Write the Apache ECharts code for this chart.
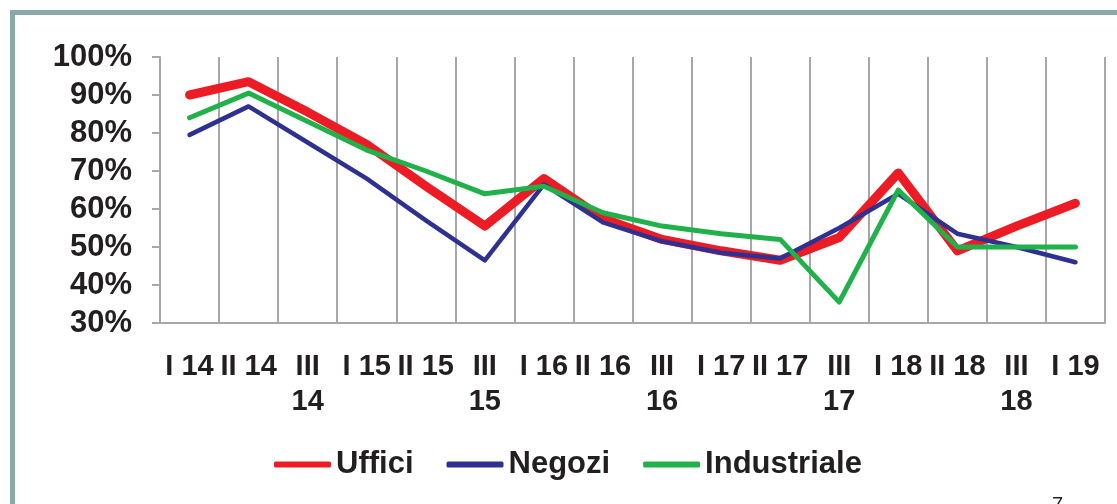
<!DOCTYPE html>
<html>
<head>
<meta charset="utf-8">
<script src="https://cdn.jsdelivr.net/npm/echarts@6/dist/echarts.min.js"></script>
<style>
html, body { margin: 0; padding: 0; background: #fff; }
#chart { width: 1117px; height: 504px; }
</style>
</head>
<body>
<div id="chart"></div>
<script>
var quarters = ['I 14', 'II 14', 'III 14', 'I 15', 'II 15', 'III 15', 'I 16', 'II 16',
    'III 16', 'I 17', 'II 17', 'III 17', 'I 18', 'II 18', 'III 18', 'I 19'];
var uffici = [90, 93.5, 85.5, 77, 66, 55.5, 68, 57.5, 52, 49, 46.5, 52.5, 69.5, 49, 55.5, 61.5];
var negozi = [79.5, 87, 77.5, 68, 57, 46.5, 66.5, 56.5, 51.5, 48.5, 47, 55, 64, 53.5, 50, 46];
var industriale = [84, 90.5, 83, 75.5, 70, 64, 66, 59, 55.5, 53.5, 52, 35.5, 65, 50, 50, 50];
var yTicks = [30, 40, 50, 60, 70, 80, 90, 100];

var font = "'Liberation Sans', Arial, sans-serif";
var ink = '#231f20';
var gridGray = '#a7a7aa';

var chart = echarts.init(document.getElementById('chart'));
option = {
    animation: false,
    backgroundColor: '#fff',
    graphic: [
        {
            type: 'rect',
            shape: { x: 12.5, y: 12.5, width: 1200, height: 600 },
            style: { fill: 'none', stroke: '#89a8a8', lineWidth: 5 }
        },
        {
            type: 'text',
            left: 1052,
            top: 495,
            style: { text: '7', fontSize: 20, fontFamily: font, fill: ink }
        }
    ],
    legend: {
        left: 269,
        top: 444,
        itemWidth: 57,
        itemHeight: 6,
        itemGap: 33,
        icon: 'roundRect',
        textStyle: { fontSize: 31, fontWeight: 'bold', fontFamily: font, color: ink },
        data: ['Uffici', 'Negozi', 'Industriale']
    },
    grid: {
        left: 160,
        right: 12,
        top: 57,
        bottom: 181
    },
    xAxis: {
        type: 'category',
        data: quarters,
        boundaryGap: true,
        axisLine: { lineStyle: { color: gridGray, width: 2 } },
        axisTick: { length: 8, lineStyle: { color: gridGray, width: 2 } },
        splitLine: { show: true, lineStyle: { color: gridGray, width: 2 } },
        axisLabel: {
            interval: 0,
            margin: 26,
            fontSize: 29,
            lineHeight: 35,
            fontWeight: 'bold',
            fontFamily: font,
            color: ink,
            formatter: function (v) {
                return v.replace('III ', 'III\n');
            }
        }
    },
    yAxis: {
        type: 'value',
        min: yTicks[0],
        max: yTicks[yTicks.length - 1],
        interval: 10,
        axisLine: { show: true, lineStyle: { color: gridGray, width: 2 } },
        axisTick: { show: true, length: 8, lineStyle: { color: gridGray, width: 2 } },
        splitLine: { show: false },
        axisLabel: {
            margin: 28,
            fontSize: 31,
            fontWeight: 'bold',
            fontFamily: font,
            color: ink,
            formatter: '{value}%'
        }
    },
    series: [
        {
            name: 'Uffici',
            type: 'line',
            data: uffici,
            symbol: 'none',
            color: '#ed1c24',
            lineStyle: { width: 9, cap: 'round', join: 'round' }
        },
        {
            name: 'Negozi',
            type: 'line',
            data: negozi,
            symbol: 'none',
            color: '#2e3192',
            lineStyle: { width: 4.5, cap: 'round', join: 'round' }
        },
        {
            name: 'Industriale',
            type: 'line',
            data: industriale,
            symbol: 'none',
            color: '#21b14b',
            lineStyle: { width: 5, cap: 'round', join: 'round' }
        }
    ]
};
chart.setOption(option);
</script>
</body>
</html>
